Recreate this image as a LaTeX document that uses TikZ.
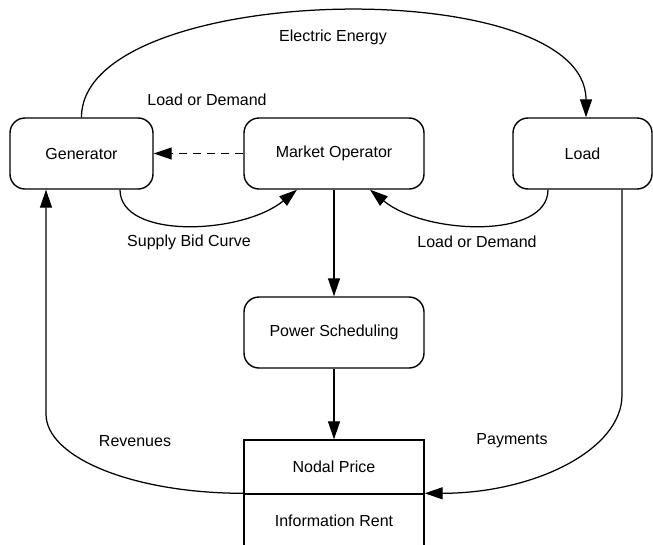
\documentclass[tikz,border=0pt]{standalone}
\usepackage{fontspec}
\setmainfont{Liberation Sans}
\usetikzlibrary{arrows.meta}
\begin{document}
\begin{tikzpicture}[x=1pt,y=-1pt,
  every node/.style={font=\fontsize{16}{19}\selectfont},
  block/.style={draw,line width=1.4pt,rounded corners=15pt,minimum height=71pt,inner sep=0pt},
  cell/.style={draw,line width=1.4pt,minimum width=180pt,minimum height=54pt,inner sep=0pt},
  flow/.style={line width=1.25pt,-{Triangle[length=18pt,width=12pt]}},
  lbl/.style={inner sep=0pt}]
\clip (0,0) rectangle (653,544);
\fill[white] (0,0) rectangle (653,544);

% main blocks
\node[block,minimum width=143pt] (gen)  at (81.5,153.5) {Generator};
\node[block,minimum width=180pt] (mo)   at (334,153.5)  {Market Operator};
\node[block,minimum width=139pt] (load) at (582.5,153.5) {Load};
\node[block,minimum width=180pt] (ps)   at (334,332.5)  {Power Scheduling};

% price table
\node[cell] (np) at (334,467) {Nodal Price};
\node[cell] (ir) at (334,521) {Information Rent};

% bend points of the money loops
\coordinate (revbend) at (46,414);
\coordinate (paybend) at (622,395);

% energy flow over the top
\draw[flow] (gen.north) .. controls +(0,-136) and +(0,-146) .. ([xshift=3.5]load.north);

% dispatch signal
\draw[flow,dash pattern=on 8pt off 6pt] (mo.west) -- (gen.east);

% bids into the market operator
\draw[flow] ([xshift=38.5]gen.south) .. controls +(0,50) and +(-55,45) .. ([xshift=-37]mo.south);
\draw[flow] ([xshift=-34.5]load.south) .. controls +(0,50) and +(55,45) .. ([xshift=36]mo.south);

% scheduling chain
\draw[flow] (mo.south) -- (ps.north);
\draw[flow] (ps.south) -- (np.north);

% revenues and payments
\draw[flow] (ir.north west) .. controls +(-109,0) and +(0,44) .. (revbend) -- ([xshift=-35.5]gen.south);
\draw[flow] ([xshift=39.5]load.south) -- (paybend) .. controls +(0,55) and +(109,0) .. (ir.north east);

% labels
\node[lbl] (lee) at (333,37)  {Electric Energy};
\node[lbl] (lld) at (207,100) {Load or Demand};
\node[lbl] (lsb) at (189,242) {Supply Bid Curve};
\node[lbl] (lrd) at (477,242) {Load or Demand};
\node[lbl] (lrv) at (135,441) {Revenues};
\node[lbl] (lpy) at (512,441) {Payments};
\end{tikzpicture}
\end{document}
